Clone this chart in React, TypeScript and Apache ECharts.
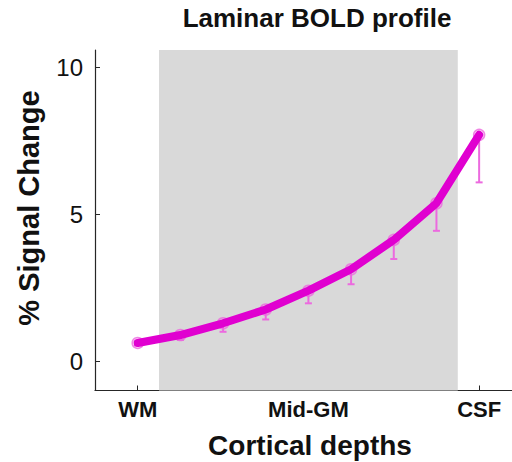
import React, { useEffect, useRef } from "react";
import * as echarts from "echarts";

const depths = [0, 1, 2, 3, 4, 5, 6, 7, 8];
const signal = [0.62, 0.89, 1.29, 1.76, 2.4, 3.13, 4.13, 5.38, 7.71];
const lowerBound = [0.55, 0.72, 1.0, 1.42, 1.97, 2.62, 3.48, 4.44, 6.09];
const xTickPositions = [0, 4, 8];
const xTickLabels = ["WM", "Mid-GM", "CSF"];
const yTickValues = [0, 5, 10];
const grayBand = [0.5, 7.5];

const FONT = "'Liberation Sans', Arial, Helvetica, sans-serif";
const LINE_COLOR = "#E000D0";
const ERR_COLOR = "#EC6ADF";

export default function App() {
  const ref = useRef<HTMLDivElement>(null);
  useEffect(() => {
    if (!ref.current) return;
    const chart = echarts.init(ref.current, undefined, { renderer: "svg" });
    const lineData = depths.map((d, i) => [d, signal[i]]);
    const errData = depths.map((d, i) => [d, signal[i], lowerBound[i]]);
    chart.setOption({
      animation: false,
      backgroundColor: "#ffffff",
      grid: { left: 95, right: 0, top: 50, bottom: 71.5, containLabel: false },
      xAxis: {
        type: "value",
        min: -1,
        max: 8.77,
        splitLine: { show: false },
        axisLine: { show: true, onZero: false, lineStyle: { color: "#262626", width: 1.2 } },
        axisTick: { show: true, inside: true, length: 5, customValues: xTickPositions, lineStyle: { color: "#262626" } },
        axisLabel: {
          customValues: xTickPositions,
          formatter: (v: number) => xTickLabels[xTickPositions.indexOf(Math.round(v))] ?? "",
          fontFamily: FONT,
          fontWeight: "bold",
          fontSize: 22,
          color: "#111",
          margin: 8,
        },
      },
      yAxis: {
        type: "value",
        min: -1,
        max: 10.6,
        splitLine: { show: false },
        axisLine: { show: true, onZero: false, lineStyle: { color: "#262626", width: 1.2 } },
        axisTick: { show: true, inside: true, length: 5, customValues: yTickValues, lineStyle: { color: "#262626" } },
        axisLabel: {
          customValues: yTickValues,
          fontFamily: FONT,
          fontSize: 24,
          color: "#111",
          margin: 12,
        },
      },
      graphic: [
        {
          type: "text",
          x: 317,
          y: 18,
          style: {
            text: "Laminar BOLD profile",
            font: `bold 26px ${FONT}`,
            fill: "#111",
            align: "center",
            verticalAlign: "middle",
          },
        },
        {
          type: "text",
          x: 310,
          y: 445,
          style: {
            text: "Cortical depths",
            font: `bold 28px ${FONT}`,
            fill: "#111",
            align: "center",
            verticalAlign: "middle",
          },
        },
        {
          type: "text",
          x: 29,
          y: 208,
          rotation: Math.PI / 2,
          style: {
            text: "% Signal Change",
            font: `bold 29px ${FONT}`,
            fill: "#111",
            align: "center",
            verticalAlign: "middle",
          },
        },
      ],
      series: [
        {
          type: "line",
          data: [],
          z: 0,
          silent: true,
          markArea: {
            silent: true,
            itemStyle: { color: "#D9D9D9" },
            data: [[{ xAxis: grayBand[0] }, { xAxis: grayBand[1] }]],
          },
        },
        {
          type: "custom",
          z: 2,
          data: errData,
          renderItem: (_params: any, api: any) => {
            const x = api.value(0);
            const y = api.value(1);
            const lo = api.value(2);
            const p1 = api.coord([x, y]);
            const p2 = api.coord([x, lo]);
            const style = { stroke: ERR_COLOR, lineWidth: 2 };
            return {
              type: "group",
              children: [
                { type: "line", shape: { x1: p1[0], y1: p1[1], x2: p2[0], y2: p2[1] }, style },
                { type: "line", shape: { x1: p2[0] - 3.5, y1: p2[1], x2: p2[0] + 3.5, y2: p2[1] }, style },
              ],
            };
          },
        },
        {
          type: "scatter",
          z: 3,
          data: lineData,
          symbol: "circle",
          symbolSize: 11,
          itemStyle: { color: "rgba(236,106,223,0.25)", borderColor: ERR_COLOR, borderWidth: 1.5 },
        },
        {
          type: "line",
          z: 4,
          data: lineData,
          showSymbol: false,
          symbol: "none",
          lineStyle: { color: LINE_COLOR, width: 8, join: "round", cap: "round" },
        },
      ],
    });
    return () => chart.dispose();
  }, []);
  return <div ref={ref} style={{ position: "fixed", left: 0, top: 0, width: 512, height: 462 }} />;
}
